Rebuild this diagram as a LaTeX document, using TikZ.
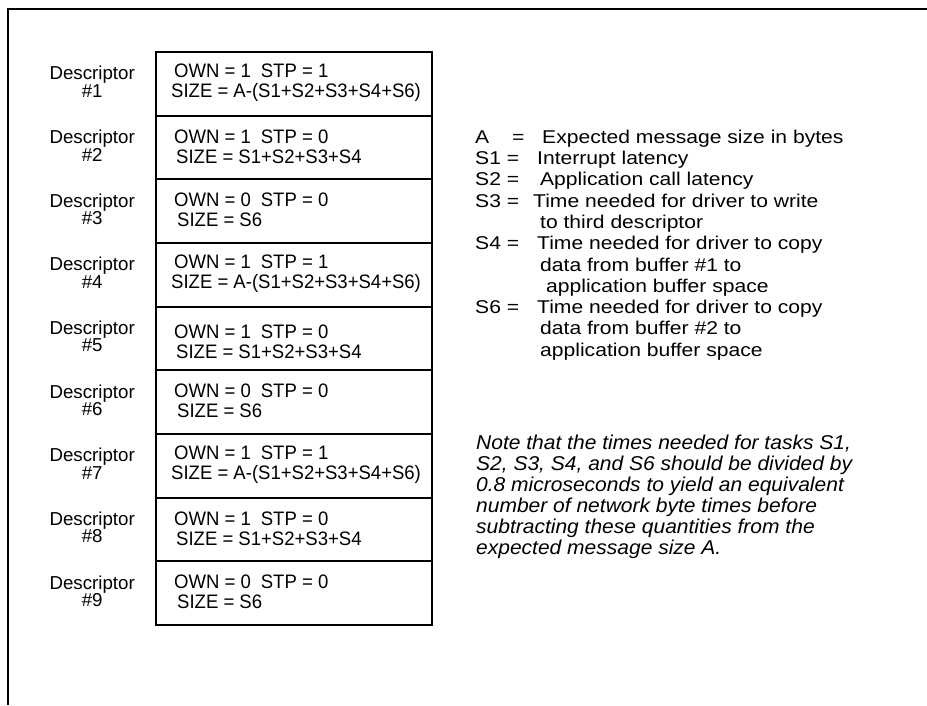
\documentclass[tikz,border=0pt]{standalone}
\usepackage{fontspec}
\setmainfont{Liberation Sans}
\newfontfamily\descfont[FakeStretch=0.95]{Liberation Sans}
\newfontfamily\keyfont[FakeStretch=1.14]{Liberation Sans}
\newfontfamily\notefont[FakeStretch=1.05]{Liberation Sans}
\usetikzlibrary{positioning}
\tikzset{
  dbox/.style  ={rectangle, draw=black, line width=1.9pt, minimum width=276pt,
                 minimum height=63.67pt, inner sep=0pt, outer sep=0pt},
  dtxt/.style  ={anchor=west, align=left, inner sep=0pt, yshift=1pt,
                 font=\descfont\fontsize{19.5}{20}\selectfont},
  dlab/.style  ={align=center, inner sep=0pt, yshift=2pt,
                 font=\fontsize{18.7}{17.5}\selectfont},
  keytext/.style={anchor=west, align=left, inner sep=0pt,
                 font=\keyfont\fontsize{18.5}{21.3}\selectfont},
  notetext/.style={anchor=west, align=left, inner sep=0pt,
                 font=\notefont\itshape\fontsize{20}{21.1}\selectfont},
  pageframe/.style={line width=1.6pt},
}
\newcommand{\own}[2]{OWN = #1\hspace{10pt}STP = #2}

\begin{document}
\begin{tikzpicture}[x=1pt, y=-1pt]
  \useasboundingbox (0,0) rectangle (927,705);
  \draw[pageframe] (927,9) -- (8,9) -- (8,705);

  \node[dbox, anchor=north west] (r1) at (156,52) {};
  \node[dbox, below=0mm of r1] (r2) {};
  \node[dbox, below=0mm of r2] (r3) {};
  \node[dbox, below=0mm of r3] (r4) {};
  \node[dbox, below=0mm of r4] (r5) {};
  \node[dbox, below=0mm of r5] (r6) {};
  \node[dbox, below=0mm of r6] (r7) {};
  \node[dbox, below=0mm of r7] (r8) {};
  \node[dbox, below=0mm of r8] (r9) {};

  \node[dtxt] (t1) at ([xshift=18pt]r1.west) {\own{1}{1}\\\hspace*{-3pt}SIZE = A-(S1+S2+S3+S4+S6)};
  \node[dtxt] (t2) at ([xshift=18pt]r2.west) {\own{1}{0}\\\hspace*{2pt}SIZE = S1+S2+S3+S4};
  \node[dtxt] (t3) at ([xshift=18pt]r3.west) {\own{0}{0}\\\hspace*{3pt}SIZE = S6};
  \node[dtxt] (t4) at ([xshift=18pt]r4.west) {\own{1}{1}\\\hspace*{-3pt}SIZE = A-(S1+S2+S3+S4+S6)};
  \node[dtxt, yshift=-4pt] (t5) at ([xshift=18pt]r5.west) {\own{1}{0}\\\hspace*{2pt}SIZE = S1+S2+S3+S4};
  \node[dtxt] (t6) at ([xshift=18pt]r6.west) {\own{0}{0}\\\hspace*{3pt}SIZE = S6};
  \node[dtxt] (t7) at ([xshift=18pt]r7.west) {\own{1}{1}\\\hspace*{-3pt}SIZE = A-(S1+S2+S3+S4+S6)};
  \node[dtxt] (t8) at ([xshift=18pt]r8.west) {\own{1}{0}\\\hspace*{2pt}SIZE = S1+S2+S3+S4};
  \node[dtxt] (t9) at ([xshift=18pt]r9.west) {\own{0}{0}\\\hspace*{3pt}SIZE = S6};

  \node[dlab, left=21pt of r1] (l1) {Descriptor\\\#1};
  \node[dlab, left=21pt of r2] (l2) {Descriptor\\\#2};
  \node[dlab, left=21pt of r3] (l3) {Descriptor\\\#3};
  \node[dlab, left=21pt of r4] (l4) {Descriptor\\\#4};
  \node[dlab, left=21pt of r5] (l5) {Descriptor\\\#5};
  \node[dlab, left=21pt of r6] (l6) {Descriptor\\\#6};
  \node[dlab, left=21pt of r7] (l7) {Descriptor\\\#7};
  \node[dlab, left=21pt of r8] (l8) {Descriptor\\\#8};
  \node[dlab, left=21pt of r9] (l9) {Descriptor\\\#9};

  \node[keytext] (key) at (475,245) {%
    \makebox[37pt][l]{A}\makebox[30pt][l]{=}Expected message size in bytes\\
    \makebox[62pt][l]{S1 =}Interrupt latency\\
    \makebox[65pt][l]{S2 =}Application call latency\\
    \makebox[58pt][l]{S3 =}Time needed for driver to write\\
    \hspace*{65pt}to third descriptor\\
    \makebox[62pt][l]{S4 =}Time needed for driver to copy\\
    \hspace*{65pt}data from buffer \#1 to\\
    \hspace*{71pt}application buffer space\\
    \makebox[62pt][l]{S6 =}Time needed for driver to copy\\
    \hspace*{65pt}data from buffer \#2 to\\
    \hspace*{65pt}application buffer space};

  \node[notetext] (note) at (476,497) {%
    Note that the times needed for tasks S1,\\
    S2, S3, S4, and S6 should be divided by\\
    0.8 microseconds to yield an equivalent\\
    number of network byte times before\\
    subtracting these quantities from the\\
    expected message size A.};
\end{tikzpicture}
\end{document}
